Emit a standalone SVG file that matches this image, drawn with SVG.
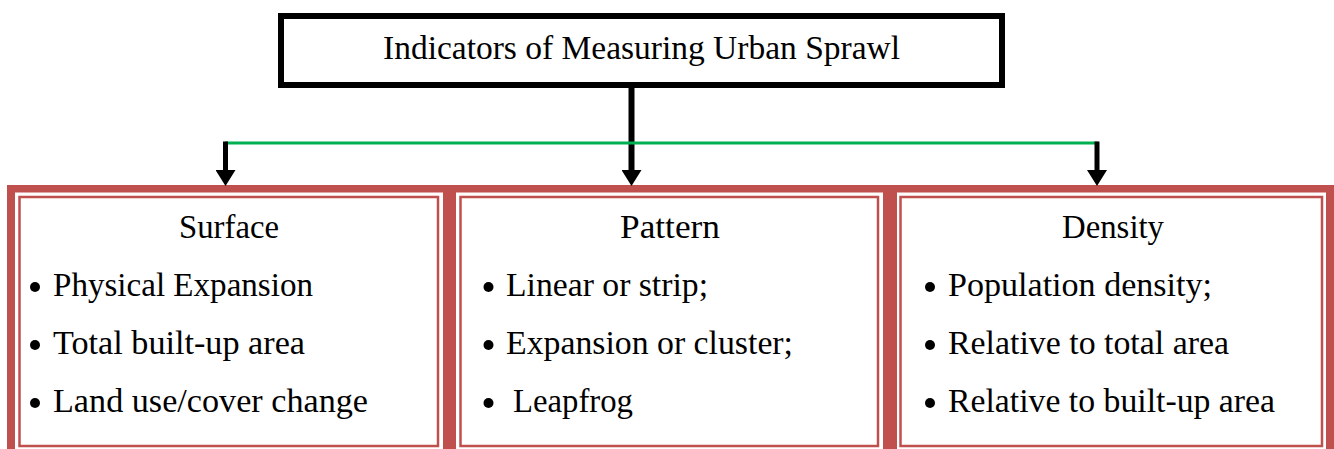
<svg xmlns="http://www.w3.org/2000/svg" width="1334" height="449" viewBox="0 0 1334 449">
  <style>
    .t { font-family: "Liberation Serif", "Times New Roman", serif; font-size: 33px; fill: #000; }
    .c { text-anchor: middle; }
    .band { fill: #C0504D; }
    .inner { fill: #fff; stroke: #C0504D; stroke-width: 2.5; }
    .dot { fill: #000; }
    .conn { stroke: #000; fill: none; }
  </style>
  <defs>
    <marker id="arrow" markerUnits="userSpaceOnUse" markerWidth="16" markerHeight="20" refX="0" refY="10" orient="auto" viewBox="0 0 16 20">
      <path d="M0,0 L16,10 L0,20 z" fill="#000"/>
    </marker>
  </defs>
  <rect width="1334" height="449" fill="#fff"/>

  <g id="table-frame">
    <rect class="band" x="7" y="185" width="1327" height="7.5"/>
    <rect class="band" x="7" y="185" width="8" height="264"/>
    <rect class="band" x="443" y="185" width="13" height="264"/>
    <rect class="band" x="883" y="185" width="14" height="264"/>
    <rect class="band" x="1326" y="185" width="8" height="264"/>
  </g>

  <g id="connectors">
    <line class="conn" x1="631.5" y1="88" x2="631.5" y2="170" stroke-width="6" marker-end="url(#arrow)"/>
    <line x1="225" y1="143" x2="1098" y2="143" stroke="#00B050" stroke-width="3"/>
    <line class="conn" x1="225.5" y1="141.5" x2="225.5" y2="170" stroke-width="5" marker-end="url(#arrow)"/>
    <line class="conn" x1="1097" y1="141.5" x2="1097" y2="170" stroke-width="5" marker-end="url(#arrow)"/>
  </g>

  <g id="node-title">
    <rect x="281" y="16" width="721" height="69" fill="#fff" stroke="#000" stroke-width="6"/>
    <text class="t c" x="641.5" y="59" textLength="517" lengthAdjust="spacingAndGlyphs">Indicators of Measuring Urban Sprawl</text>
  </g>

  <g id="node-surface">
    <rect class="inner" x="19.5" y="197" width="418.5" height="249"/>
    <text class="t c" x="229" y="238" textLength="100" lengthAdjust="spacingAndGlyphs">Surface</text>
    <circle class="dot" cx="35" cy="287" r="5"/>
    <text class="t" x="53" y="296" textLength="260" lengthAdjust="spacingAndGlyphs">Physical Expansion</text>
    <circle class="dot" cx="35" cy="345" r="5"/>
    <text class="t" x="53" y="354" textLength="252" lengthAdjust="spacingAndGlyphs">Total built-up area</text>
    <circle class="dot" cx="35" cy="403" r="5"/>
    <text class="t" x="53" y="412" textLength="315" lengthAdjust="spacingAndGlyphs">Land use/cover change</text>
  </g>

  <g id="node-pattern">
    <rect class="inner" x="460.5" y="197" width="417.5" height="249"/>
    <text class="t c" x="670" y="238" textLength="100" lengthAdjust="spacingAndGlyphs">Pattern</text>
    <circle class="dot" cx="488.5" cy="287" r="5"/>
    <text class="t" x="506" y="296" textLength="202" lengthAdjust="spacingAndGlyphs">Linear or strip;</text>
    <circle class="dot" cx="488.5" cy="345" r="5"/>
    <text class="t" x="506" y="354" textLength="287" lengthAdjust="spacingAndGlyphs">Expansion or cluster;</text>
    <circle class="dot" cx="488.5" cy="403" r="5"/>
    <text class="t" x="513" y="412" textLength="120" lengthAdjust="spacingAndGlyphs">Leapfrog</text>
  </g>

  <g id="node-density">
    <rect class="inner" x="900.5" y="197" width="421.5" height="249"/>
    <text class="t c" x="1113" y="238" textLength="102" lengthAdjust="spacingAndGlyphs">Density</text>
    <circle class="dot" cx="930" cy="287" r="5"/>
    <text class="t" x="948" y="296" textLength="264" lengthAdjust="spacingAndGlyphs">Population density;</text>
    <circle class="dot" cx="930" cy="345" r="5"/>
    <text class="t" x="948" y="354" textLength="281" lengthAdjust="spacingAndGlyphs">Relative to total area</text>
    <circle class="dot" cx="930" cy="403" r="5"/>
    <text class="t" x="948" y="412" textLength="327" lengthAdjust="spacingAndGlyphs">Relative to built-up area</text>
  </g>
</svg>
